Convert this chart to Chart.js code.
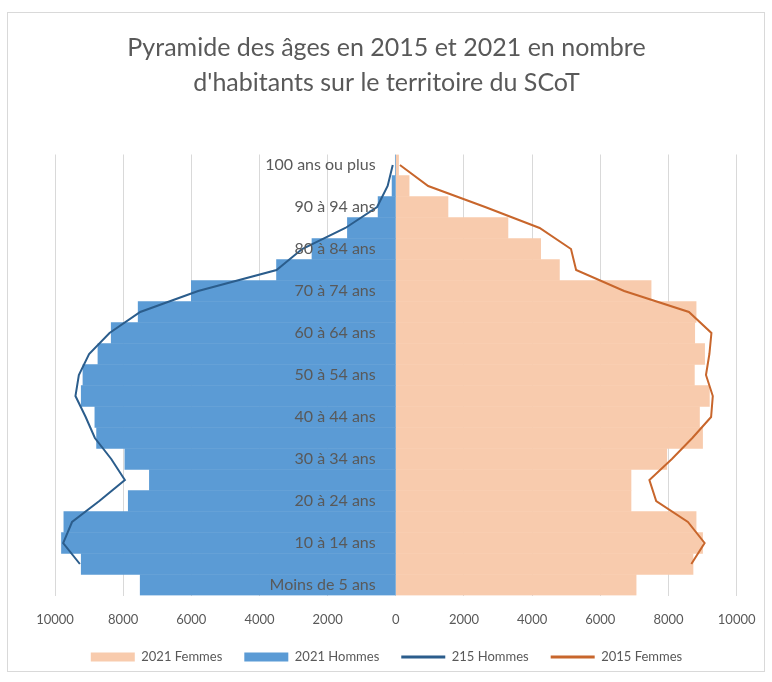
<!DOCTYPE html>
<html>
<head>
<meta charset="utf-8">
<script src="https://cdn.jsdelivr.net/npm/chart.js@4.4.1/dist/chart.umd.min.js"></script>
<style>
  html, body { margin: 0; padding: 0; background: #ffffff; }
  #wrap { position: absolute; left: 0; top: 0; width: 772px; height: 682px; }
  #frame { position: absolute; left: 7px; top: 12px; width: 758px; height: 660px; border: 1px solid #d9d9d9; box-sizing: border-box; }
  canvas { position: absolute; left: 0; top: 0; }
</style>
</head>
<body>
<div id="wrap">
  <div id="frame"></div>
  <canvas id="c" width="772" height="682"></canvas>
</div>
<script>
// Age groups, youngest first (drawn bottom to top)
const categories = [
  "Moins de 5 ans", "5 à 9 ans", "10 à 14 ans", "15 à 19 ans", "20 à 24 ans",
  "25 à 29 ans", "30 à 34 ans", "35 à 39 ans", "40 à 44 ans", "45 à 49 ans",
  "50 à 54 ans", "55 à 59 ans", "60 à 64 ans", "65 à 69 ans", "70 à 74 ans",
  "75 à 79 ans", "80 à 84 ans", "85 à 89 ans", "90 à 94 ans", "95 à 99 ans",
  "100 ans ou plus"
];
const femmes2021 = [7050, 8720, 9000, 8810, 6900, 6900, 7950, 9000, 8910, 9200, 8760, 9060, 8770, 8810, 7490, 4800, 4250, 3290, 1530, 390, 80];
const hommes2021 = [7500, 9230, 9810, 9740, 7850, 7230, 7950, 8780, 8830, 9230, 9180, 8740, 8350, 7560, 6000, 3500, 2460, 1420, 520, 110, 15];
const hommes2015 = [null, 9270, 9760, 9500, 8700, 7950, 8350, 8830, 9100, 9400, 9300, 9000, 8400, 7500, 5800, 3500, 2750, 1480, 550, 240, 90];
const femmes2015 = [null, 8670, 9060, 8570, 7640, 7440, 8100, 8700, 9250, 9300, 9100, 9200, 9260, 8600, 6700, 5290, 5140, 4220, 2620, 950, 120];
const titleLines = ["Pyramide des âges en 2015 et 2021 en nombre", "d'habitants sur le territoire du SCoT"];
const seriesNames = ["2021 Femmes", "2021 Hommes", "215 Hommes", "2015 Femmes"];
const xMin = -10000, xMax = 10000, xStep = 2000;

const negate = arr => arr.map(v => v == null ? null : -v);
const FONT = "Lato, 'Open Sans', sans-serif";
const GREY = "#595959";

const ctx = document.getElementById('c').getContext('2d');
new Chart(ctx, {
  type: 'bar',
  data: {
    labels: categories,
    datasets: [
      { type: 'bar', label: seriesNames[0], data: femmes2021, backgroundColor: '#f8cbad',
        borderWidth: 0, grouped: false, barPercentage: 1, categoryPercentage: 1, order: 2 },
      { type: 'bar', label: seriesNames[1], data: negate(hommes2021), backgroundColor: '#5b9bd5',
        borderWidth: 0, grouped: false, barPercentage: 1, categoryPercentage: 1, order: 2 },
      { type: 'line', label: seriesNames[2], data: negate(hommes2015), borderColor: '#2b5d8c',
        backgroundColor: '#2b5d8c', borderWidth: 2, pointRadius: 0, fill: false, tension: 0, order: 1 },
      { type: 'line', label: seriesNames[3], data: femmes2015, borderColor: '#c8662c',
        backgroundColor: '#c8662c', borderWidth: 2, pointRadius: 0, fill: false, tension: 0, order: 1 }
    ]
  },
  options: {
    indexAxis: 'y',
    responsive: false,
    animation: false,
    layout: { padding: { left: 27, right: 26, top: 0, bottom: 8.5 } },
    scales: {
      x: {
        min: xMin, max: xMax,
        afterFit: s => { s.height = 33; },
        ticks: { stepSize: xStep, callback: v => Math.abs(v), color: GREY,
                 font: { family: FONT, size: 13 }, padding: 16.5 },
        grid: { color: '#d9d9d9', drawTicks: false },
        border: { display: false }
      },
      y: {
        reverse: true,
        position: { x: -590 },
        grid: { display: false, drawTicks: false },
        border: { display: false },
        afterFit: s => { s.width = 0; },
        ticks: {
          z: 1,
          autoSkip: false,
          callback: (v, i) => (i % 2 === 0 ? categories[i] : ''),
          color: GREY, font: { family: FONT, size: 16 }, padding: 0
        }
      },
      yPad: {
        type: 'linear', axis: 'y', position: 'left', display: true,
        grid: { display: false, drawTicks: false },
        border: { display: false },
        ticks: { display: false },
        afterFit: s => { s.width = 28; }
      }
    },
    plugins: {
      title: {
        display: true, text: titleLines, color: GREY,
        font: { family: FONT, size: 25, weight: 'normal', lineHeight: 1.4 },
        padding: { top: 30.5, bottom: 54 }
      },
      legend: {
        position: 'bottom',
        labels: {
          usePointStyle: true, pointStyleWidth: 44, boxHeight: 9,
          color: GREY, font: { family: FONT, size: 13 }, padding: 22,
          generateLabels: chart => Chart.defaults.plugins.legend.labels.generateLabels(chart)
            .sort((a, b) => a.datasetIndex - b.datasetIndex)
            .map(it => {
              const isBar = it.datasetIndex < 2;
              it.pointStyle = isBar ? 'rect' : 'line';
              it.lineWidth = isBar ? 0 : 3;
              return it;
            })
        }
      },
      tooltip: { enabled: false }
    }
  }
});
</script>
</body>
</html>
